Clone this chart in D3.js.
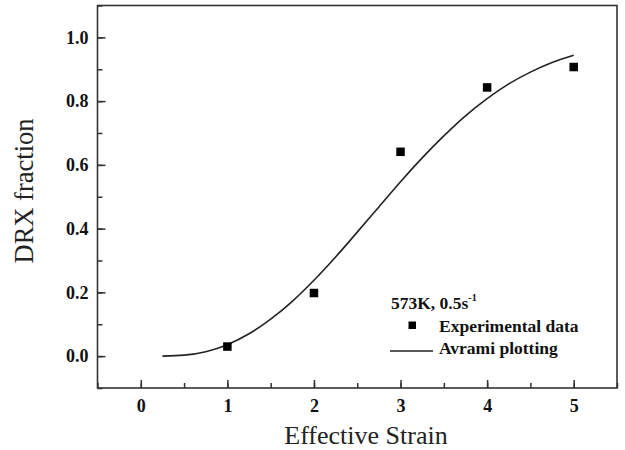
<!DOCTYPE html>
<html>
<head>
<meta charset="utf-8">
<script src="https://cdn.jsdelivr.net/npm/d3@7"></script>
<style>
  body { margin: 0; background: #fff; }
  svg { display: block; font-family: "Liberation Serif", "Times New Roman", serif; }
</style>
</head>
<body>
<div id="chart"></div>
<script>
// experimental points
var strain = [1, 2, 3, 4, 5];
var drx = [0.03, 0.198, 0.641, 0.843, 0.907];

// Avrami curve
var fitStrain = [0.25, 0.5, 0.75, 1.0, 1.25, 1.5, 1.75, 2.0, 2.25, 2.5, 2.75, 3.0, 3.25, 3.5, 3.75, 4.0, 4.25, 4.5, 4.75, 5.0];
var fitDrx = [0, 0.003, 0.014, 0.036, 0.07, 0.116, 0.172, 0.238, 0.311, 0.389, 0.468, 0.547, 0.622, 0.691, 0.754, 0.808, 0.854, 0.891, 0.921, 0.944];

var xTicks = [0, 1, 2, 3, 4, 5];
var yTicks = [0, 0.2, 0.4, 0.6, 0.8, 1.0];

var legendTitle = "573K, 0.5s";
var legendNames = ["Experimental data", "Avrami plotting"];

var width = 625, height = 450;
var margin = {top: 5.5, right: 8, bottom: 62, left: 97.5};

var svg = d3.select("#chart").append("svg")
  .attr("width", width)
  .attr("height", height);

var x = d3.scaleLinear()
  .domain([-0.5, 5.5])
  .range([margin.left, width - margin.right]);

var y = d3.scaleLinear()
  .domain([-0.1, 1.1])
  .range([height - margin.bottom, margin.top]);

// minor ticks
svg.append("g")
  .attr("transform", `translate(0,${height - margin.bottom})`)
  .call(d3.axisBottom(x).tickValues(d3.range(-0.5, 5.51, 0.5)).tickSize(-5).tickFormat(""))
  .call(g => g.select(".domain").remove());

svg.append("g")
  .attr("transform", `translate(${margin.left},0)`)
  .call(d3.axisLeft(y).tickValues(d3.range(-0.1, 1.11, 0.1)).tickSize(-5).tickFormat(""))
  .call(g => g.select(".domain").remove());

// major ticks + labels
svg.append("g")
  .attr("transform", `translate(0,${height - margin.bottom})`)
  .call(d3.axisBottom(x).tickValues(xTicks).tickSize(-8).tickPadding(11).tickFormat(d3.format("d")))
  .call(g => g.select(".domain").remove())
  .call(g => g.selectAll("text").attr("font-size", 18).attr("font-weight", "bold").attr("fill", "#111").attr("font-family", "Liberation Serif"));

svg.append("g")
  .attr("transform", `translate(${margin.left},0)`)
  .call(d3.axisLeft(y).tickValues(yTicks).tickSize(-8).tickPadding(9).tickFormat(d3.format(".1f")))
  .call(g => g.select(".domain").remove())
  .call(g => g.selectAll("text").attr("font-size", 18).attr("font-weight", "bold").attr("fill", "#111").attr("font-family", "Liberation Serif"));

svg.selectAll(".tick line").attr("stroke", "#333").attr("stroke-width", 1.5);

// frame
svg.append("rect")
  .attr("x", margin.left)
  .attr("y", margin.top)
  .attr("width", width - margin.right - margin.left)
  .attr("height", height - margin.bottom - margin.top)
  .attr("fill", "none")
  .attr("stroke", "#333")
  .attr("stroke-width", 1.6);

// curve
var line = d3.line()
  .x((d, i) => x(fitStrain[i]))
  .y(d => y(d))
  .curve(d3.curveMonotoneX);

svg.append("path")
  .datum(fitDrx)
  .attr("d", line)
  .attr("fill", "none")
  .attr("stroke", "#222")
  .attr("stroke-width", 1.6);

// points
var sz = 8.5;
svg.append("g")
  .selectAll("rect")
  .data(drx)
  .enter().append("rect")
  .attr("x", (d, i) => x(strain[i]) - sz / 2)
  .attr("y", d => y(d) - sz / 2)
  .attr("width", sz)
  .attr("height", sz)
  .attr("fill", "#000");

// axis titles
svg.append("text")
  .attr("x", 366)
  .attr("y", 444)
  .attr("text-anchor", "middle")
  .attr("font-size", 26)
  .attr("fill", "#222")
  .text("Effective Strain");

svg.append("text")
  .attr("transform", "translate(33,191) rotate(-90)")
  .attr("text-anchor", "middle")
  .attr("font-size", 26.5)
  .attr("fill", "#222")
  .text("DRX fraction");

// legend
var lg = svg.append("g").attr("font-weight", "bold").attr("font-size", 17.5).attr("fill", "#111");

var t = lg.append("text").attr("x", 391).attr("y", 309);
t.append("tspan").text(legendTitle);
t.append("tspan").attr("font-size", 10).attr("dy", -8).text("-1");

lg.append("rect")
  .attr("x", 408.5).attr("y", 321.5)
  .attr("width", 7.5).attr("height", 7.5)
  .attr("fill", "#000");
lg.append("text").attr("x", 439).attr("y", 332).text(legendNames[0]);

lg.append("line")
  .attr("x1", 390).attr("x2", 433)
  .attr("y1", 351).attr("y2", 351)
  .attr("stroke", "#222").attr("stroke-width", 1.6);
lg.append("text").attr("x", 439).attr("y", 354).text(legendNames[1]);
</script>
</body>
</html>
